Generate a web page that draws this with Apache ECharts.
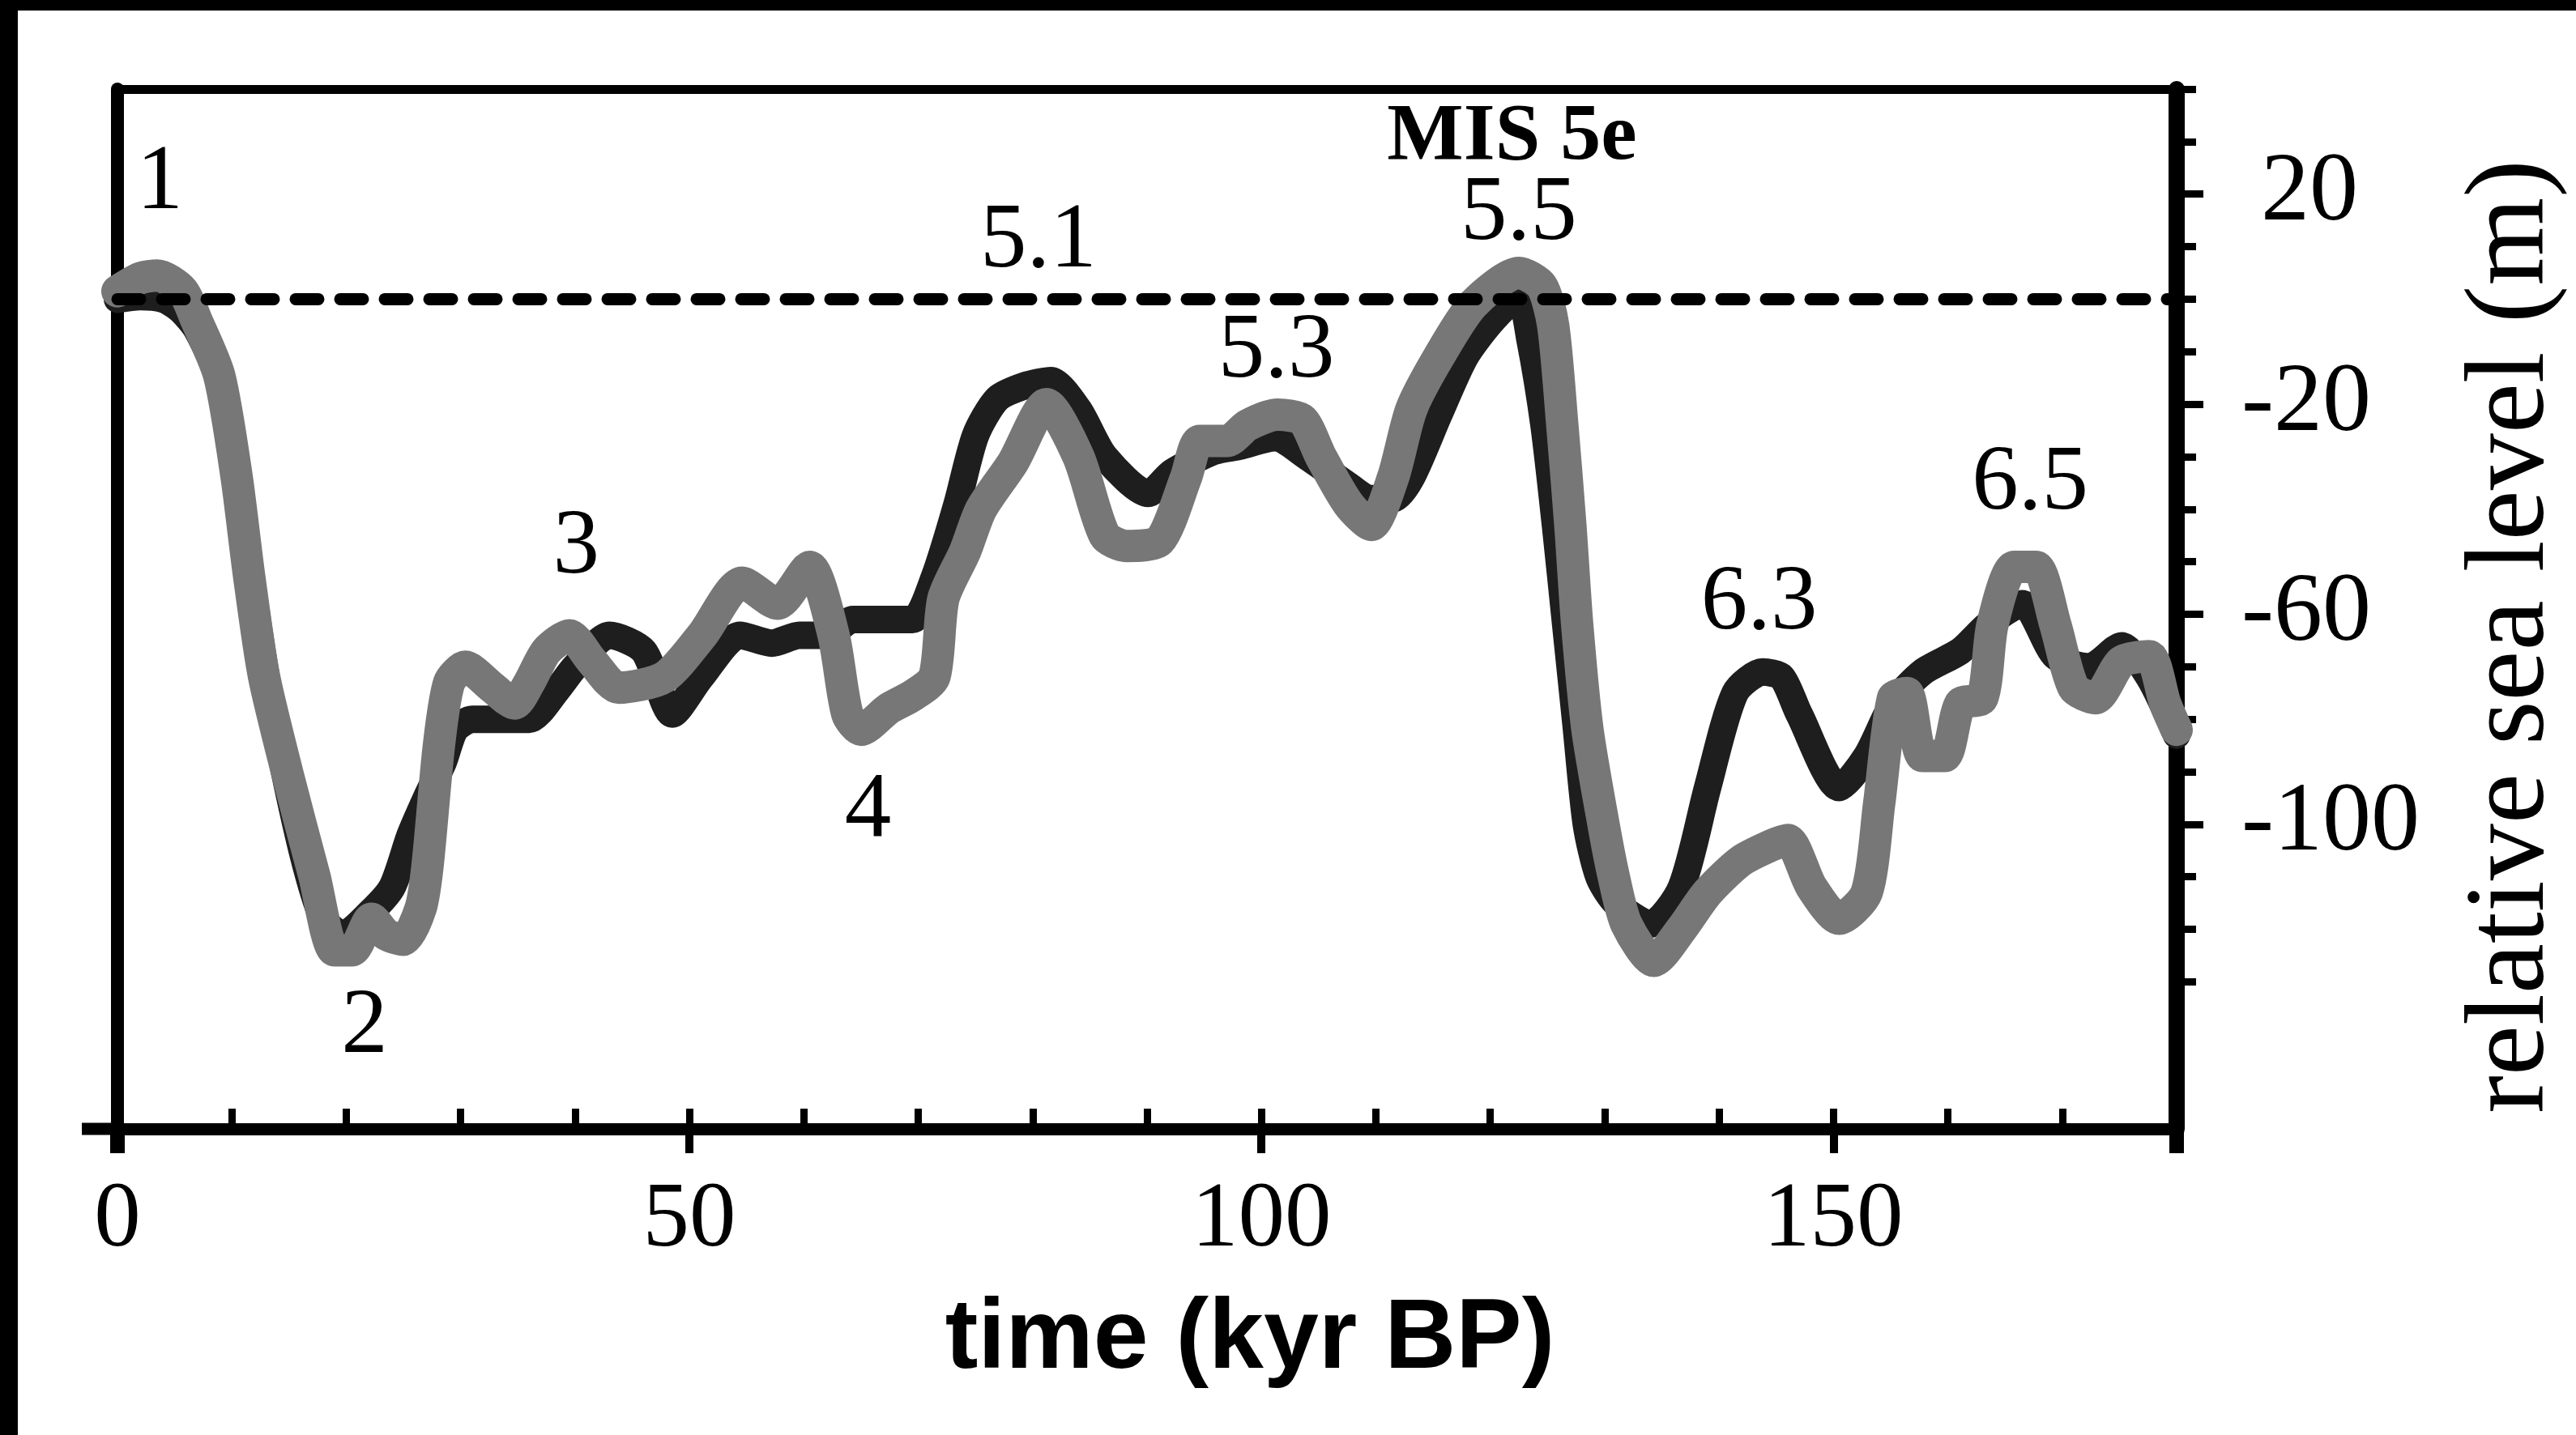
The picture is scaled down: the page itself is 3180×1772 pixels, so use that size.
<!DOCTYPE html>
<html>
<head>
<meta charset="utf-8">
<script src="https://cdn.jsdelivr.net/npm/echarts@6/dist/echarts.min.js"></script>
<style>
  html, body { margin: 0; padding: 0; background: #fff; }
  #chart { width: 3180px; height: 1772px; position: absolute; left: 0; top: 0; }
  .band { position: absolute; background: #000; pointer-events: none; }
</style>
</head>
<body>
<div id="chart"></div>
<div class="band" style="left:0;top:0;width:3180px;height:13px;"></div>
<div class="band" style="left:0;top:0;width:22px;height:1772px;"></div>
<script>
// ---- data (time in kyr BP, relative sea level in m) ----
const blackTime = [0, 2, 4, 5.5, 7, 9, 10.5, 11.8, 13, 14.8, 16.5, 18, 19.7, 22, 24, 25.6, 27, 28.5, 29.5, 31, 33, 36, 38.4, 40, 43, 46, 48.5, 51, 54.4, 57.2, 59.6, 62, 64.3, 66.6, 69.5, 71.4, 73.4, 75, 76.9, 79.3, 81.6, 84, 86.3, 90.1, 92.2, 95.8, 98.1, 101.2, 104, 107.6, 109.5, 111.5, 113.1, 115.5, 117.8, 120.2, 122.5, 123.5, 124.7, 125.7, 126.6, 127.5, 128.4, 129.5, 131, 134, 136.7, 139, 141.4, 143.8, 145.5, 147, 150.5, 152.9, 155.2, 157.8, 161.1, 163.5, 166.5, 169.4, 172.4, 175.2, 177.6, 180];
const blackLevel = [0, 0.5, 0, -2, -6, -16, -36, -55, -72, -92, -108, -118, -121, -117, -112, -102, -95, -88, -82, -80, -80, -80, -74.5, -70, -64, -67, -79, -72, -64, -65.5, -64, -64, -61, -61, -61, -53, -39, -26, -19, -16.5, -15.5, -21, -30, -37, -33, -29, -28, -26.4, -30, -35.5, -38, -38, -34, -22, -11, -4, 0.5, -8, -24, -43, -62, -81, -100, -110, -115, -119, -112, -93, -75, -71, -72, -79, -93, -87, -77, -71, -67, -62, -58, -68, -70, -66, -72, -83];

const greyTime = [0, 2, 3.5, 5.7, 6.9, 8.9, 10.4, 11.5, 12.8, 14.9, 17.2, 19, 20.5, 22.2, 23.5, 25, 26.5, 27.1, 28.1, 29, 30.4, 32.8, 34.7, 36, 37.5, 39.5, 41.5, 43.8, 47.8, 51.1, 54.6, 57.7, 60.5, 62.6, 63.8, 65, 67.4, 69.5, 71.4, 72.2, 74.1, 75.5, 78.3, 81.2, 84, 86.3, 88.2, 91.1, 93.4, 94.6, 97, 98.8, 101.4, 103.6, 105.2, 107.6, 109.6, 111.5, 113.1, 115.5, 118.5, 122.5, 124.5, 125.5, 126.3, 127, 127.6, 128.5, 129.9, 130.8, 131.9, 134.3, 136.7, 139, 141.9, 144.6, 146, 148.1, 150.5, 152.9, 154, 155.2, 156.4, 157.8, 159.7, 161.1, 163, 163.9, 165.8, 167.7, 169.4, 171, 172.9, 175.2, 177.6, 179, 180];
const greyLevel = [1.5, 4, 4.5, 1.6, -4, -14.6, -33.6, -52.6, -71.7, -90.7, -109.7, -124, -124, -118, -121, -122, -116, -108, -85, -73, -70, -74, -77, -73, -67, -64, -69, -74, -72, -64, -54, -58, -51, -64, -79, -82, -78, -75.5, -72, -57, -48, -40, -31, -20, -30, -45, -47, -46, -34, -27, -27, -24, -22, -23, -30, -39, -43, -34, -21, -11, -1, 5, 2.5, -5, -24, -43, -62, -82, -100, -110, -119, -126, -120, -113, -107, -104, -103, -112, -118, -113, -96, -76, -75, -87, -87, -77, -76, -62, -51, -51, -62, -74, -76, -69, -68, -77, -82];

const zeroLineTime = [0, 180];
const zeroLineLevel = [0, 0];

const stageLabels = ['1', '2', '3', '4', '5.1', '5.3', '5.5', '6.3', '6.5'];
const stageTime   = [3.7, 21.6, 40.1, 65.6, 80.5, 101.3, 122.5, 143.5, 167.2];
const stageLevel  = [22, -138.7, -47.4, -97.6, 10.9, -10.1, 16.1, -58, -35.2];

const misLabel = ['MIS 5e'];
const misTime = [121.9];
const misLevel = [30.7];

const xMajorTicks = [0, 50, 100, 150];
const xMinorTicks = [0, 10, 20, 30, 40, 50, 60, 70, 80, 90, 100, 110, 120, 130, 140, 150, 160, 170];
const yTicks = [-130, -120, -110, -100, -90, -80, -70, -60, -50, -40, -30, -20, -10, 0, 10, 20, 30, 40];
const yLabelTicks = [-100, -60, -20, 20];

const X_MIN = 0, X_MAX = 180, Y_MIN = -158, Y_MAX = 40;

const zip = (a, b) => a.map((v, i) => [v, b[i]]);

const chart = echarts.init(document.getElementById('chart'), null, { renderer: 'canvas' });
const serif = "'Liberation Serif', 'Times New Roman', serif";

const textSeries = (name, labels, times, levels, font) => ({
  name, type: 'scatter', xAxisIndex: 0, yAxisIndex: 1,
  data: labels.map((s, i) => ({ name: s, value: [times[i], levels[i]] })),
  symbol: 'circle', symbolSize: 0, itemStyle: { color: '#000', opacity: 1 }, silent: true,
  label: Object.assign({ show: true, position: 'inside', formatter: '{b}', color: '#000', opacity: 1,
    textBorderWidth: 0, textShadowBlur: 0, fontFamily: serif }, font),
  emphasis: { disabled: true }, z: 6
});

const option = {
  animation: false,
  backgroundColor: '#fff',
  grid: { left: 145, top: 110, right: 491, bottom: 378, containLabel: false },
  xAxis: [
    {
      type: 'value', min: X_MIN, max: X_MAX, position: 'bottom',
      axisLine: { show: true, onZero: false, lineStyle: { color: '#000', width: 15 } },
      axisTick: { show: true, customValues: xMajorTicks, inside: false, length: 30, lineStyle: { color: '#000', width: 10 } },
      axisLabel: { show: true, customValues: xMajorTicks, margin: 56, color: '#000', fontFamily: serif, fontSize: 115 },
      splitLine: { show: false },
      name: 'time (kyr BP)', nameLocation: 'middle', nameGap: 200,
      nameTextStyle: { fontFamily: "'Liberation Sans', Arial, sans-serif", fontSize: 122, fontWeight: 'bold', color: '#000', padding: [0, 0, 0, 254] }
    },
    {
      type: 'value', min: X_MIN, max: X_MAX, position: 'bottom',
      axisLine: { show: false, onZero: false },
      axisTick: { show: true, customValues: xMinorTicks, inside: true, length: 25, lineStyle: { color: '#000', width: 9 } },
      axisLabel: { show: false }, splitLine: { show: false }
    },
    {
      type: 'value', min: X_MIN, max: X_MAX, position: 'bottom',
      axisLine: { show: false, onZero: false },
      axisTick: { show: true, customValues: [X_MIN, X_MAX], inside: false, length: 30, lineStyle: { color: '#000', width: 18 } },
      axisLabel: { show: false }, splitLine: { show: false }
    },
    {
      type: 'value', min: X_MIN, max: X_MAX, position: 'top',
      axisLine: { show: true, onZero: false, lineStyle: { color: '#000', width: 11 } },
      axisTick: { show: false }, axisLabel: { show: false }, splitLine: { show: false }
    }
  ],
  yAxis: [
    {
      type: 'value', min: Y_MIN, max: Y_MAX, position: 'left',
      axisLine: { show: true, onZero: false, lineStyle: { color: '#000', width: 16 } },
      axisTick: { show: false }, axisLabel: { show: false }, splitLine: { show: false }
    },
    {
      type: 'value', min: Y_MIN, max: Y_MAX, position: 'right',
      axisLine: { show: true, onZero: false, lineStyle: { color: '#000', width: 20 } },
      axisTick: { show: true, customValues: yTicks, inside: false, length: 24, lineStyle: { color: '#000', width: 9 } },
      axisLabel: { show: true, customValues: yLabelTicks, margin: 80, color: '#000', fontFamily: serif, fontSize: 120,
        formatter: v => (v > 0 ? '\u2009' : '') + v },
      splitLine: { show: false },
      name: 'relative sea level (m)', nameLocation: 'middle', nameGap: 345, nameRotate: 90,
      nameTextStyle: { fontFamily: serif, fontSize: 140, color: '#000', padding: [0, 68, 0, 0] }
    },
    {
      type: 'value', min: Y_MIN, max: Y_MAX, position: 'right',
      axisLine: { show: false, onZero: false },
      axisTick: { show: true, customValues: yLabelTicks, inside: false, length: 33, lineStyle: { color: '#000', width: 9 } },
      axisLabel: { show: false }, splitLine: { show: false }
    }
  ],
  series: [
    {
      name: 'black curve', type: 'line', xAxisIndex: 0, yAxisIndex: 1,
      data: zip(blackTime, blackLevel), showSymbol: false, symbol: 'none', smooth: 0.25,
      lineStyle: { color: '#1e1e1e', width: 34, cap: 'round', join: 'round' }, z: 3
    },
    {
      name: 'grey curve', type: 'line', xAxisIndex: 0, yAxisIndex: 1,
      data: zip(greyTime, greyLevel), showSymbol: false, symbol: 'none', smooth: 0.25,
      lineStyle: { color: '#777777', width: 40, cap: 'round', join: 'round' }, z: 4
    },
    {
      name: 'present sea level', type: 'line', xAxisIndex: 0, yAxisIndex: 1,
      data: zip(zeroLineTime, zeroLineLevel), showSymbol: false, symbol: 'none',
      lineStyle: { color: '#000', width: 15, type: [28, 27], cap: 'round' }, z: 5
    },
    textSeries('stages', stageLabels, stageTime, stageLevel, { fontSize: 115 }),
    textSeries('MIS', misLabel, misTime, misLevel, { fontSize: 100, fontWeight: 'bold' })
  ]
};
chart.setOption(option);

// short overhang of the time axis to the left of the frame
const p0 = chart.convertToPixel({ xAxisIndex: 0, yAxisIndex: 1 }, [X_MIN, Y_MIN]);
chart.setOption({
  graphic: [{
    type: 'line', silent: true,
    shape: { x1: p0[0] - 44, y1: p0[1], x2: p0[0], y2: p0[1] },
    style: { stroke: '#000', lineWidth: 15 }
  }]
});
</script>
</body>
</html>
